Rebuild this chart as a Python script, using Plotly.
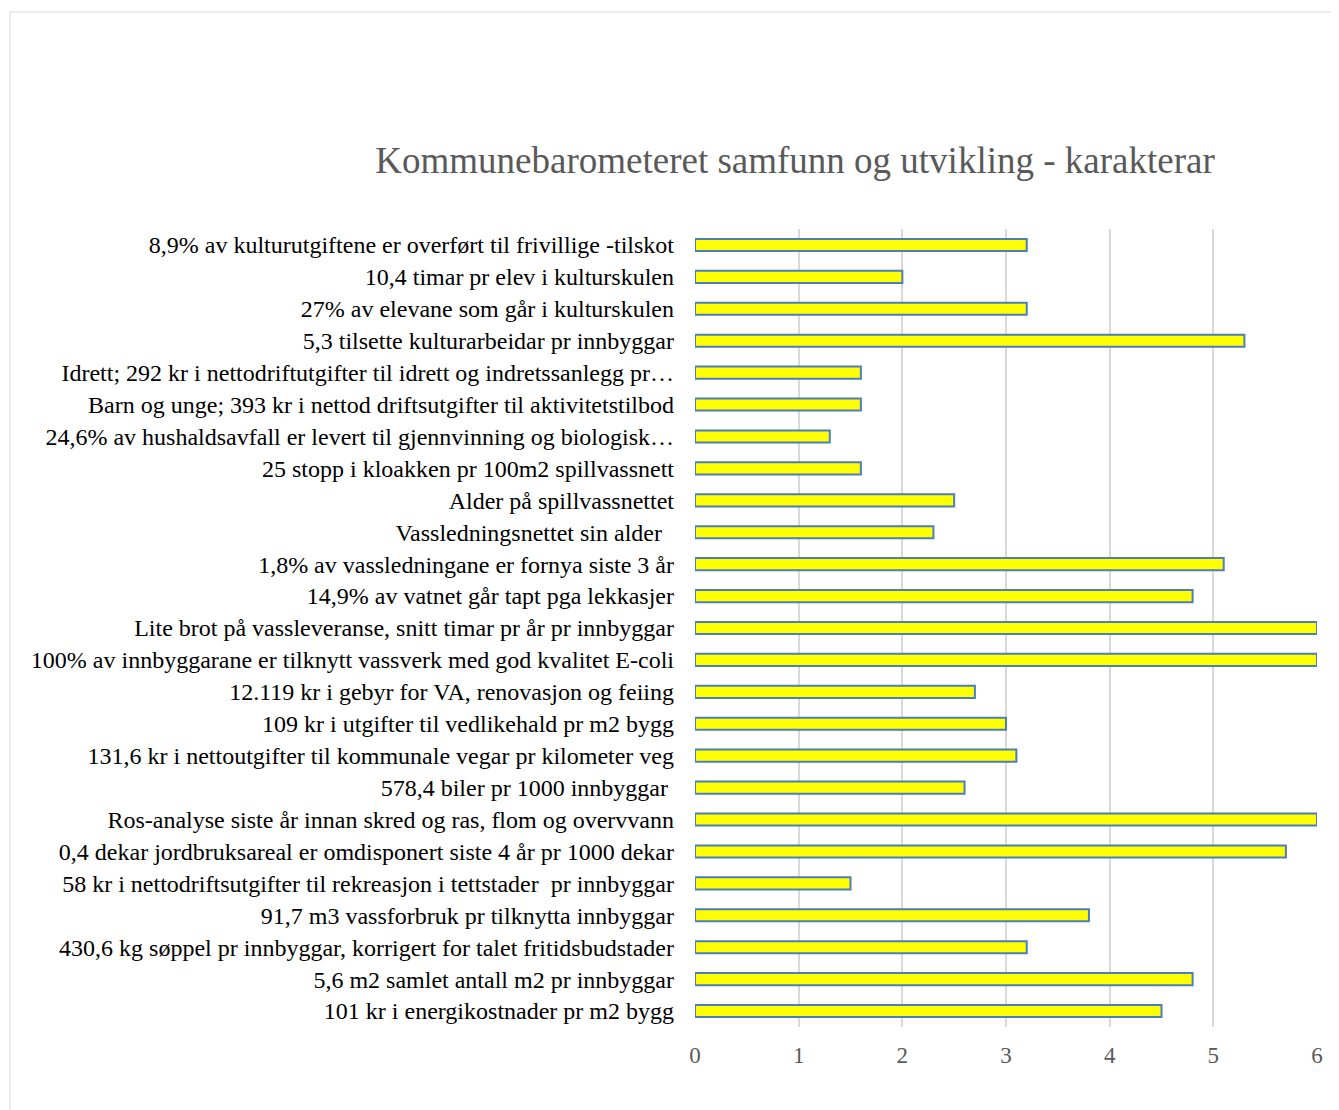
import plotly.graph_objects as go

categories = [
    "8,9% av kulturutgiftene er overført til frivillige -tilskot",
    "10,4 timar pr elev i kulturskulen",
    "27% av elevane som går i kulturskulen",
    "5,3 tilsette kulturarbeidar pr innbyggar",
    "Idrett; 292 kr i nettodriftutgifter til idrett og indretssanlegg pr…",
    "Barn og unge; 393 kr i nettod driftsutgifter til aktivitetstilbod",
    "24,6% av hushaldsavfall er levert til gjennvinning og biologisk…",
    "25 stopp i kloakken pr 100m2 spillvassnett",
    "Alder på spillvassnettet",
    "Vassledningsnettet sin alder\u00a0\u00a0",
    "1,8% av vassledningane er fornya siste 3 år",
    "14,9% av vatnet går tapt pga lekkasjer",
    "Lite brot på vassleveranse, snitt timar pr år pr innbyggar",
    "100% av innbyggarane er tilknytt vassverk med god kvalitet E-coli",
    "12.119 kr i gebyr for VA, renovasjon og feiing",
    "109 kr i utgifter til vedlikehald pr m2 bygg",
    "131,6 kr i nettoutgifter til kommunale vegar pr kilometer veg",
    "578,4 biler pr 1000 innbyggar\u00a0",
    "Ros-analyse siste år innan skred og ras, flom og overvvann",
    "0,4 dekar jordbruksareal er omdisponert siste 4 år pr 1000 dekar",
    "58 kr i nettodriftsutgifter til rekreasjon i tettstader  pr innbyggar",
    "91,7 m3 vassforbruk pr tilknytta innbyggar",
    "430,6 kg søppel pr innbyggar, korrigert for talet fritidsbudstader",
    "5,6 m2 samlet antall m2 pr innbyggar",
    "101 kr i energikostnader pr m2 bygg",
]
values = [3.2, 2.0, 3.2, 5.3, 1.6, 1.6, 1.3, 1.6, 2.5, 2.3,
          5.1, 4.8, 6.0, 6.0, 2.7, 3.0, 3.1, 2.6, 6.0, 5.7,
          1.5, 3.8, 3.2, 4.8, 4.5]
x_ticks = [0, 1, 2, 3, 4, 5, 6]
title_text = "Kommunebarometeret samfunn og utvikling - karakterar"

W, H = 1339, 1110
OFF = 8  # page body margin
L, R, T, B = 695 - OFF, 1317 - OFF, 229 - OFF, 1027 - OFF

fig = go.Figure(go.Bar(
    x=values, y=categories, orientation="h",
    marker=dict(color="#FFFF00", line=dict(color="#4A7EC0", width=2)),
    width=0.38,
))

def px_x(p):
    return (p - OFF - L) / (R - L)

def px_y(p):
    return (B - (p - OFF)) / (B - T)

fig.update_layout(
    width=W, height=H,
    margin=dict(l=L, r=W - R, t=T, b=H - B),
    paper_bgcolor="white", plot_bgcolor="white",
    font=dict(family="Liberation Serif", color="black", size=24),
    showlegend=False,
    title=dict(text=title_text, x=px_x(795), xref="paper", xanchor="center",
               y=1 - (160 - OFF) / H, yref="container", yanchor="middle",
               font=dict(family="Liberation Serif", size=37, color="#595959")),
    xaxis=dict(range=[0, 6], tickvals=x_ticks, showgrid=True, gridcolor="#D9D9D9",
               gridwidth=1.5, zeroline=False, showline=False, ticks="",
               tickfont=dict(size=23, color="#595959"), ticklabelstandoff=12),
    yaxis=dict(type="category", autorange="reversed", showgrid=False, showline=False,
               ticks="", tickfont=dict(size=24, color="black"), ticklabelstandoff=20),
    shapes=[dict(type="rect", xref="paper", yref="paper",
                 x0=px_x(10), x1=px_x(1390), y0=px_y(1130), y1=px_y(12),
                 line=dict(color="#D9D9D9", width=1), fillcolor="rgba(0,0,0,0)",
                 layer="below")],
)

fig.write_html("out.html")
